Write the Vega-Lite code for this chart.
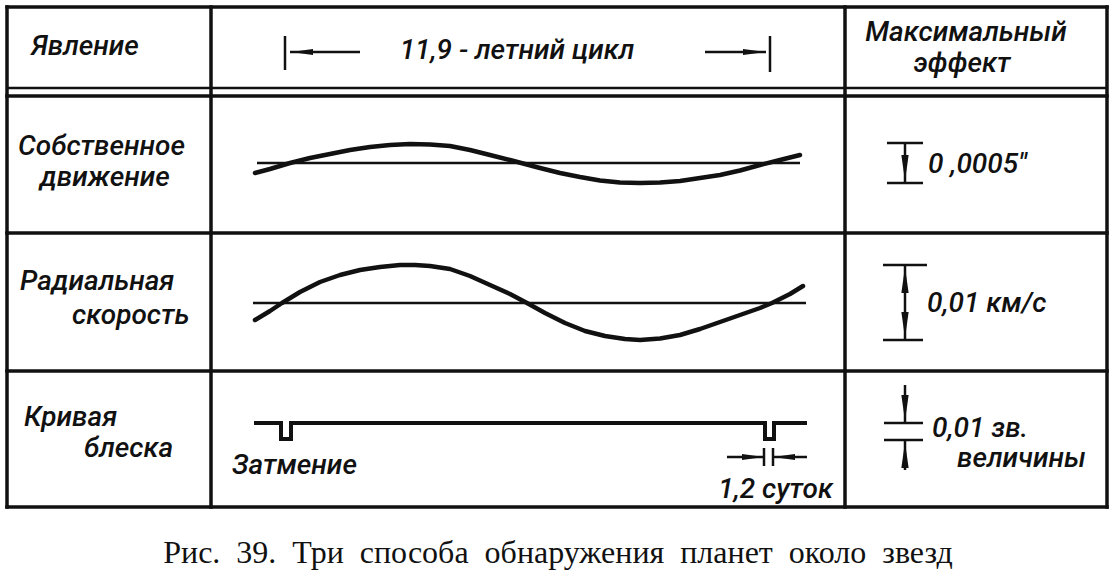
{
  "$schema": "https://vega.github.io/schema/vega-lite/v6.json",
  "width": 1117,
  "height": 578,
  "autosize": {"type": "fit", "contains": "padding"},
  "padding": 0,
  "background": "white",
  "config": {"view": {"stroke": null}},
  "encoding": {
    "x": {"field": "x", "type": "quantitative", "scale": {"domain": [0, 1117], "nice": false, "zero": false}, "axis": null},
    "y": {"field": "y", "type": "quantitative", "scale": {"domain": [0, 578], "reverse": true, "nice": false, "zero": false}, "axis": null}
  },
  "layer": [
    {
      "data": {"values": [
        {"x": 7, "y": 7, "x2": 1107, "y2": 7},
        {"x": 7, "y": 507, "x2": 1107, "y2": 507},
        {"x": 7, "y": 7, "x2": 7, "y2": 507},
        {"x": 1107, "y": 7, "x2": 1107, "y2": 507},
        {"x": 211, "y": 7, "x2": 211, "y2": 507},
        {"x": 845, "y": 7, "x2": 845, "y2": 507},
        {"x": 7, "y": 96, "x2": 1107, "y2": 96},
        {"x": 7, "y": 233, "x2": 1107, "y2": 233},
        {"x": 7, "y": 371, "x2": 1107, "y2": 371}
      ]},
      "mark": {"type": "rule", "color": "#111", "strokeWidth": 3.5, "strokeCap": "square"},
      "encoding": {"x2": {"field": "x2"}, "y2": {"field": "y2"}}
    },
    {
      "data": {"values": [
        {"x": 7, "y": 88, "x2": 1107, "y2": 88},
        {"x": 257, "y": 163, "x2": 800, "y2": 163},
        {"x": 253, "y": 303, "x2": 806, "y2": 303},
        {"x": 285, "y": 36, "x2": 285, "y2": 70},
        {"x": 770, "y": 36, "x2": 770, "y2": 72},
        {"x": 290, "y": 52, "x2": 360, "y2": 52},
        {"x": 705, "y": 52, "x2": 766, "y2": 52},
        {"x": 887, "y": 143, "x2": 923, "y2": 143},
        {"x": 887, "y": 183, "x2": 923, "y2": 183},
        {"x": 905, "y": 143, "x2": 905, "y2": 183},
        {"x": 883, "y": 265, "x2": 927, "y2": 265},
        {"x": 883, "y": 340, "x2": 923, "y2": 340},
        {"x": 905, "y": 265, "x2": 905, "y2": 340},
        {"x": 884, "y": 423, "x2": 923, "y2": 423},
        {"x": 884, "y": 440, "x2": 923, "y2": 440},
        {"x": 905, "y": 385, "x2": 905, "y2": 423},
        {"x": 905, "y": 440, "x2": 905, "y2": 470},
        {"x": 764, "y": 448, "x2": 764, "y2": 466},
        {"x": 773, "y": 448, "x2": 773, "y2": 466},
        {"x": 727, "y": 457, "x2": 764, "y2": 457},
        {"x": 773, "y": 457, "x2": 807, "y2": 457}
      ]},
      "mark": {"type": "rule", "color": "#111", "strokeWidth": 2.5},
      "encoding": {"x2": {"field": "x2"}, "y2": {"field": "y2"}}
    },
    {
      "data": {"values": [
        {"row": "r1", "x": 255, "y": 173}, {"row": "r1", "x": 270, "y": 169}, {"row": "r1", "x": 290, "y": 163},
        {"row": "r1", "x": 310, "y": 158}, {"row": "r1", "x": 330, "y": 154}, {"row": "r1", "x": 350, "y": 150},
        {"row": "r1", "x": 370, "y": 147}, {"row": "r1", "x": 390, "y": 145}, {"row": "r1", "x": 410, "y": 144},
        {"row": "r1", "x": 430, "y": 144.5}, {"row": "r1", "x": 450, "y": 146}, {"row": "r1", "x": 470, "y": 150},
        {"row": "r1", "x": 490, "y": 155}, {"row": "r1", "x": 510, "y": 160}, {"row": "r1", "x": 525, "y": 164},
        {"row": "r1", "x": 540, "y": 168}, {"row": "r1", "x": 560, "y": 173}, {"row": "r1", "x": 580, "y": 177},
        {"row": "r1", "x": 600, "y": 180.5}, {"row": "r1", "x": 620, "y": 182.5}, {"row": "r1", "x": 640, "y": 183},
        {"row": "r1", "x": 660, "y": 182.5}, {"row": "r1", "x": 680, "y": 181}, {"row": "r1", "x": 700, "y": 178},
        {"row": "r1", "x": 720, "y": 175}, {"row": "r1", "x": 740, "y": 170.5}, {"row": "r1", "x": 760, "y": 165},
        {"row": "r1", "x": 780, "y": 160}, {"row": "r1", "x": 800, "y": 155},
        {"row": "r2", "x": 255, "y": 320}, {"row": "r2", "x": 270, "y": 311}, {"row": "r2", "x": 282, "y": 303},
        {"row": "r2", "x": 300, "y": 292}, {"row": "r2", "x": 320, "y": 282}, {"row": "r2", "x": 340, "y": 275},
        {"row": "r2", "x": 360, "y": 270}, {"row": "r2", "x": 380, "y": 267}, {"row": "r2", "x": 400, "y": 265},
        {"row": "r2", "x": 415, "y": 265}, {"row": "r2", "x": 430, "y": 266}, {"row": "r2", "x": 450, "y": 269},
        {"row": "r2", "x": 470, "y": 276}, {"row": "r2", "x": 490, "y": 285}, {"row": "r2", "x": 510, "y": 294},
        {"row": "r2", "x": 527, "y": 303}, {"row": "r2", "x": 545, "y": 313}, {"row": "r2", "x": 565, "y": 323},
        {"row": "r2", "x": 585, "y": 331}, {"row": "r2", "x": 605, "y": 336}, {"row": "r2", "x": 625, "y": 339},
        {"row": "r2", "x": 640, "y": 340}, {"row": "r2", "x": 660, "y": 338.5}, {"row": "r2", "x": 680, "y": 335},
        {"row": "r2", "x": 700, "y": 329}, {"row": "r2", "x": 720, "y": 322}, {"row": "r2", "x": 740, "y": 315},
        {"row": "r2", "x": 760, "y": 308}, {"row": "r2", "x": 772, "y": 303}, {"row": "r2", "x": 790, "y": 294},
        {"row": "r2", "x": 803, "y": 286}
      ]},
      "mark": {"type": "line", "color": "#111", "strokeWidth": 4.5, "strokeCap": "round", "strokeJoin": "round"},
      "encoding": {"detail": {"field": "row"}}
    },
    {
      "data": {"values": [
        {"i": 1, "x": 254, "y": 423}, {"i": 2, "x": 281, "y": 423}, {"i": 3, "x": 281, "y": 439},
        {"i": 4, "x": 291, "y": 439}, {"i": 5, "x": 291, "y": 423}, {"i": 6, "x": 765, "y": 423},
        {"i": 7, "x": 765, "y": 439}, {"i": 8, "x": 774, "y": 439}, {"i": 9, "x": 774, "y": 423},
        {"i": 10, "x": 807, "y": 423}
      ]},
      "mark": {"type": "line", "color": "#111", "strokeWidth": 4, "strokeJoin": "miter"},
      "encoding": {"order": {"field": "i"}}
    },
    {
      "data": {"values": [{"x": 905, "y": 168}, {"x": 905, "y": 325}, {"x": 905, "y": 408}]},
      "mark": {"type": "point", "filled": true, "color": "#111", "opacity": 1, "size": 676, "shape": "M-0.28,-1L0.28,-1L0,1Z"}
    },
    {
      "data": {"values": [{"x": 905, "y": 280}, {"x": 905, "y": 455}]},
      "mark": {"type": "point", "filled": true, "color": "#111", "opacity": 1, "size": 676, "shape": "M-0.28,1L0.28,1L0,-1Z"}
    },
    {
      "data": {"values": [{"x": 754, "y": 52}, {"x": 753, "y": 457}]},
      "mark": {"type": "point", "filled": true, "color": "#111", "opacity": 1, "size": 484, "shape": "M-1,-0.28L-1,0.28L1,0Z"}
    },
    {
      "data": {"values": [{"x": 302, "y": 52}, {"x": 784, "y": 457}]},
      "mark": {"type": "point", "filled": true, "color": "#111", "opacity": 1, "size": 484, "shape": "M1,-0.28L1,0.28L-1,0Z"}
    },
    {
      "data": {"values": [
        {"t": "Явление", "x": 85, "y": 47},
        {"t": "11,9 - летний цикл", "x": 517, "y": 51},
        {"t": "Максимальный", "x": 966, "y": 33},
        {"t": "эффект", "x": 962, "y": 64}
      ]},
      "mark": {"type": "text", "font": "Roboto", "fontStyle": "italic", "fontWeight": 500, "fontSize": 28, "align": "center", "baseline": "middle", "color": "#111"},
      "encoding": {"text": {"field": "t"}}
    },
    {
      "data": {"values": [
        {"t": "Собственное", "x": 18, "y": 147},
        {"t": "движение", "x": 40, "y": 178},
        {"t": "Радиальная", "x": 20, "y": 282},
        {"t": "скорость", "x": 72, "y": 316},
        {"t": "Кривая", "x": 24, "y": 418},
        {"t": "блеска", "x": 84, "y": 449},
        {"t": "Затмение", "x": 232, "y": 466},
        {"t": "0 ,0005″", "x": 928, "y": 165},
        {"t": "0,01 км/с", "x": 927, "y": 304},
        {"t": "0,01 зв.", "x": 932, "y": 429}
      ]},
      "mark": {"type": "text", "font": "Roboto", "fontStyle": "italic", "fontWeight": 500, "fontSize": 28, "align": "left", "baseline": "middle", "color": "#111"},
      "encoding": {"text": {"field": "t"}}
    },
    {
      "data": {"values": [
        {"t": "величины", "x": 1086, "y": 459},
        {"t": "1,2 суток", "x": 833, "y": 490}
      ]},
      "mark": {"type": "text", "font": "Roboto", "fontStyle": "italic", "fontWeight": 500, "fontSize": 28, "align": "right", "baseline": "middle", "color": "#111"},
      "encoding": {"text": {"field": "t"}}
    },
    {
      "data": {"values": [
        {"t": "Рис.\u00a0 39.\u00a0 Три\u00a0 способа\u00a0 обнаружения\u00a0 планет\u00a0 около\u00a0 звезд", "x": 558, "y": 553}
      ]},
      "mark": {"type": "text", "font": "Liberation Serif", "fontSize": 32, "align": "center", "baseline": "middle", "color": "#111"},
      "encoding": {"text": {"field": "t"}}
    }
  ]
}
